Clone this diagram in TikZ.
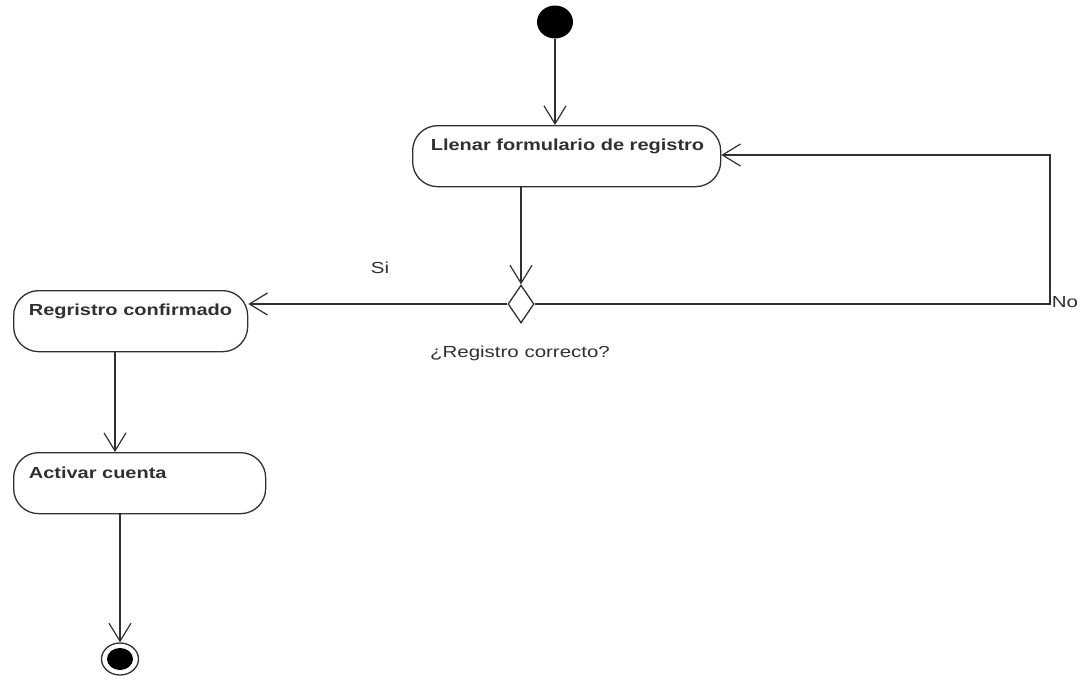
\documentclass[tikz,border=0pt]{standalone}
\usepackage{fontspec}
\setmainfont{Liberation Sans}
\usetikzlibrary{arrows.meta,shapes.geometric}
\definecolor{ink}{HTML}{303030}
\begin{document}
\begin{tikzpicture}[x=1pt,y=-1pt,line width=1.3pt,
  act/.style={draw=ink, rounded corners=25pt, anchor=north west, inner sep=0pt},
  acttext/.style={anchor=west, inner sep=0pt, xscale=1.25, text=ink, font=\bfseries\fontsize{16pt}{18pt}\selectfont},
  lbl/.style={inner sep=0pt, xscale=1.28, text=ink, font=\fontsize{16pt}{18pt}\selectfont},
  flow/.style={draw=ink, -{Straight Barb[length=18pt,width=22pt,line width=1.2pt]}}]
\useasboundingbox (0,0) rectangle (1081,681);

% initial node
\node[ellipse, fill=black, minimum width=36pt, minimum height=33pt, inner sep=0pt] (start) at (555,22) {};

% activities
\node[act, minimum width=308pt, minimum height=61pt] (llenar) at (412,125) {};
\node[acttext] (llenarT) at (430,146) {Llenar formulario de registro};

\node[act, minimum width=234pt, minimum height=61pt] (confirm) at (13,290) {};
\node[acttext] (confirmT) at (28,311) {Regristro confirmado};

\node[act, minimum width=252pt, minimum height=61pt] (activar) at (13,452) {};
\node[acttext] (activarT) at (28,473) {Activar cuenta};

% decision
\node[diamond, draw=ink, minimum width=26pt, minimum height=38pt, inner sep=0pt] (dec) at (521,304) {};
\node[lbl] (decT) at (520,353) {¿Registro correcto?};
\node[lbl] (si) at (380,268) {Si};
\node[lbl, anchor=west] (no) at (1051,302) {No};

% final node
\node[ellipse, draw=ink, minimum width=37pt, minimum height=32pt, inner sep=0pt] (final) at (120,659) {};
\node[ellipse, fill=black, minimum width=26pt, minimum height=22pt, inner sep=0pt] (finalDot) at (final) {};

% loop corners
\coordinate (loopB) at (1050,304);
\coordinate (loopT) at (1050,155);

% flows
\draw[flow] (start) -- (start |- llenar.north);
\draw[flow] (llenar.south -| dec.north) -- (dec.north);
\draw[flow] (dec.west) -- (confirm.east |- dec.west);
\draw[flow] (dec.east) -- (loopB) -- (loopT) -- (llenar.east |- loopT);
\draw[flow] ([xshift=102pt]confirm.south west) -- ([xshift=102pt]activar.north west);
\draw[flow] (final |- activar.south) -- (final.north);
\end{tikzpicture}
\end{document}
